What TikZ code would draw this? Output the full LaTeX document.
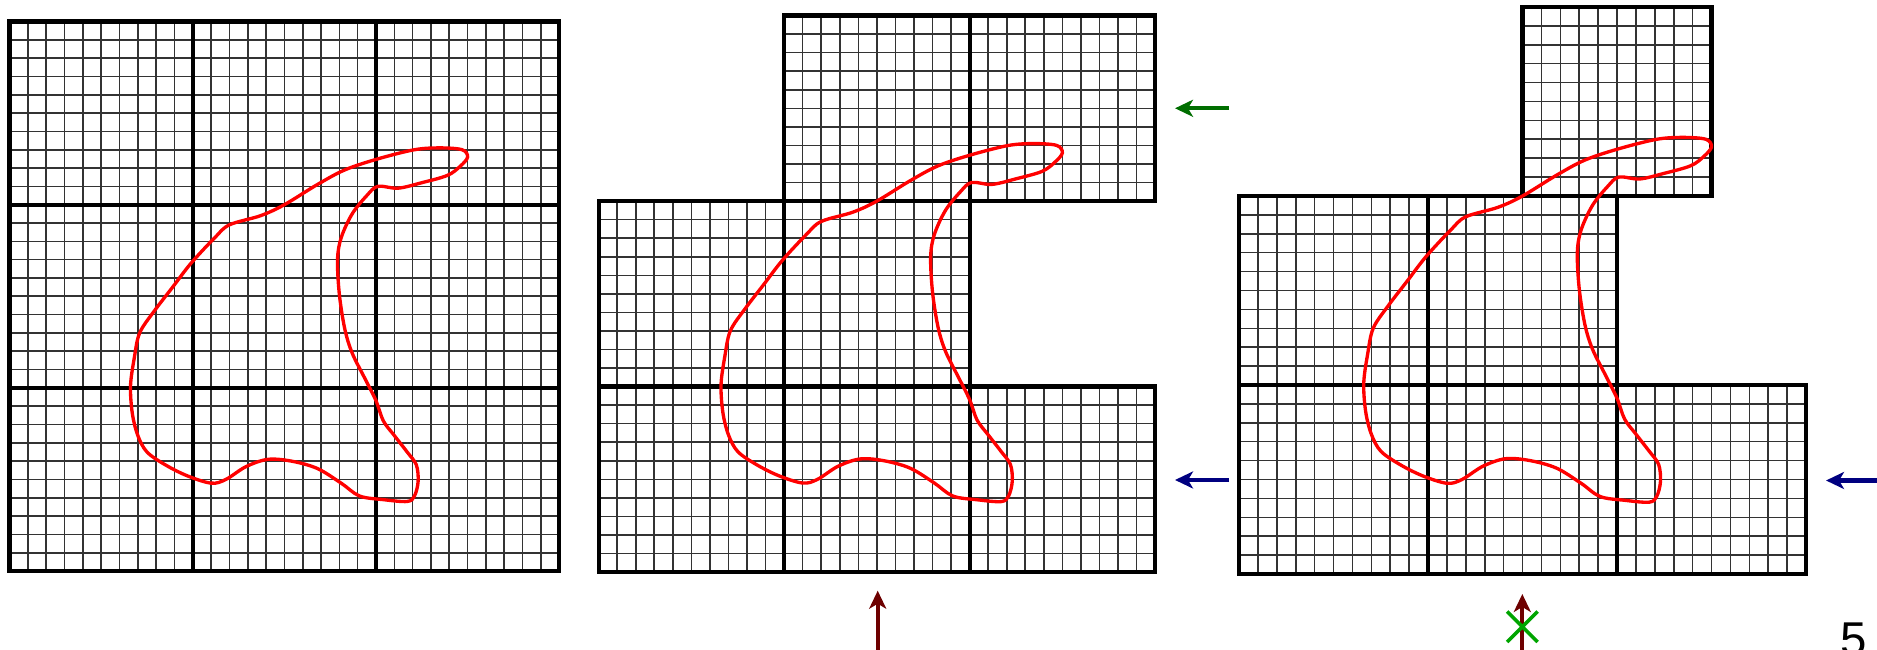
\documentclass[tikz,border=0pt]{standalone}
\usepackage{fontspec}
\setsansfont{Liberation Sans}
\usetikzlibrary{arrows.meta,shapes.misc}

\definecolor{hintgreen}{RGB}{0,110,0}
\definecolor{hintnavy}{RGB}{0,0,128}
\definecolor{hintmaroon}{RGB}{110,0,0}
\definecolor{crossgreen}{RGB}{0,165,0}

\tikzset{
  fine/.style={black!80, line width=0.45pt},
  coarse/.style={black, line width=1.2pt, line join=miter},
  blob/.style={red, line width=0.95pt},
  hint/.style={line width=1.15pt, -{Stealth[length=0.18cm, width=0.17cm, inset=0.05cm]}},
}

% one block of 10x10 cells, lower left corner at (#1,#2)
\newcommand{\cellblock}[2]{%
  \foreach \k in {1,...,9} {
    \draw[fine] (#1+\k/10,#2) -- ++(0,1);
    \draw[fine] (#1,#2+\k/10) -- ++(1,0);
  }
  \draw[coarse] (#1,#2) rectangle ++(1,1);
}

% the red region, in block units
\newcommand{\blobcurve}{%
  \draw[blob] plot[smooth cycle, tension=0.55] coordinates {
    (2.47,2.30) (2.35,2.31) (2.21,2.30) (2.01,2.25) (1.83,2.19)
    (1.68,2.11) (1.50,2.00) (1.37,1.94) (1.20,1.89) (1.12,1.82)
    (0.99,1.68) (0.89,1.55) (0.79,1.42) (0.71,1.30) (0.68,1.16)
    (0.66,1.01) (0.67,0.86) (0.70,0.74) (0.75,0.65) (0.85,0.58)
    (0.97,0.52) (1.10,0.48) (1.18,0.50) (1.29,0.57) (1.41,0.61)
    (1.54,0.60) (1.68,0.56) (1.81,0.48) (1.91,0.41) (2.04,0.39)
    (2.17,0.38) (2.21,0.41) (2.23,0.49) (2.22,0.58) (2.17,0.65)
    (2.10,0.74) (2.04,0.82) (2.00,0.93) (1.94,1.05) (1.87,1.19)
    (1.83,1.32) (1.80,1.51) (1.79,1.70) (1.81,1.82) (1.87,1.95)
    (1.95,2.05) (2.01,2.10) (2.12,2.09) (2.25,2.12) (2.39,2.16)
    (2.46,2.21) (2.50,2.26)
  };
}

\begin{document}
\begin{tikzpicture}
  \useasboundingbox (0,0) rectangle (18.77,6.5);
  \clip (0,0) rectangle (18.77,6.5);

  % full 3x3 grid
  \begin{scope}[shift={(0.096,0.789)}, scale=1.832]
    \foreach \i in {0,1,2}
      \foreach \j in {0,1,2}
        {\cellblock{\i}{\j}}
    \blobcurve
  \end{scope}

  % after the first refinement
  \begin{scope}[shift={(5.986,0.779)}, scale=1.855]
    \foreach \i/\j in {0/0,1/0,2/0,0/1,1/1,1/2,2/2}
      {\cellblock{\i}{\j}}
    \blobcurve
  \end{scope}

  % after the second refinement
  \begin{scope}[shift={(12.39,0.76)}, scale=1.89]
    \foreach \i/\j in {0/0,1/0,2/0,0/1,1/1,1.5/2}
      {\cellblock{\i}{\j}}
    \blobcurve
  \end{scope}

  % arrows
  \coordinate (toptail) at (12.29,5.417);
  \coordinate (toptip) at (11.75,5.417);
  \draw[hint, hintgreen] (toptail) -- (toptip);

  \coordinate (lowtail) at (12.29,1.70);
  \coordinate (lowtip) at (11.75,1.70);
  \draw[hint, hintnavy] (lowtail) -- (lowtip);

  \coordinate (edgetail) at (18.85,1.695);
  \coordinate (edgetip) at (18.26,1.695);
  \draw[hint, hintnavy] (edgetail) -- (edgetip);

  \coordinate (uptail) at (8.777,-0.1);
  \coordinate (uptip) at (8.777,0.593);
  \draw[hint, hintmaroon] (uptail) -- (uptip);

  \coordinate (nexttail) at (15.223,-0.1);
  \coordinate (nexttip) at (15.223,0.56);
  \draw[hint, hintmaroon] (nexttail) -- (nexttip);
  \node[draw=crossgreen, cross out, line width=1pt, minimum size=0.27cm, inner sep=0pt] (nogo) at (15.223,0.233) {};

  \node[anchor=base west, inner sep=0pt, font=\sffamily\fontsize{13.5}{16}\selectfont] (pagenum) at (18.40,-0.055) {5};
\end{tikzpicture}
\end{document}
